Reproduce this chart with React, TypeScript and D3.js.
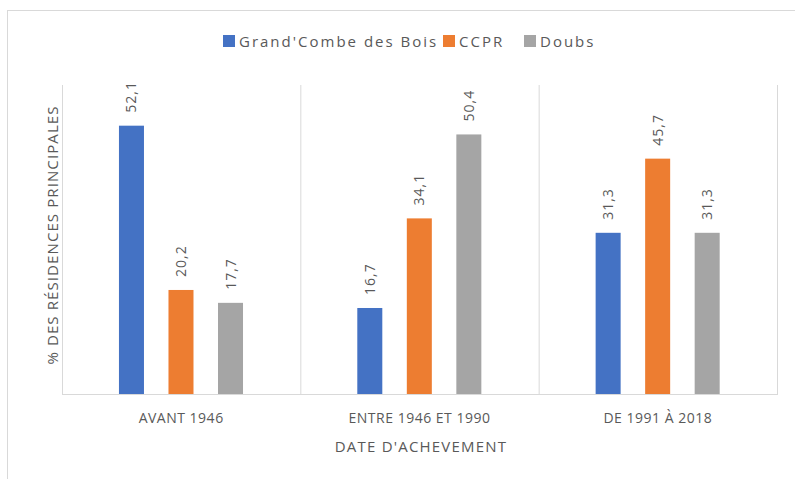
import React, { useRef, useEffect } from "react";
import * as d3 from "d3";

// chart data
const categories = ["AVANT 1946", "ENTRE 1946 ET 1990", "DE 1991 À 2018"];
const seriesNames = ["Grand'Combe des Bois", "CCPR", "Doubs"];
const grandCombe = [52.1, 16.7, 31.3];
const ccpr = [20.2, 34.1, 45.7];
const doubs = [17.7, 50.4, 31.3];
const colors = ["#4472C4", "#ED7D31", "#A5A5A5"];

const W = 795;
const H = 479;
const FONT = "'Open Sans', 'DejaVu Sans', sans-serif";
const TXT = "#595959";

const App = () => {
  const svgRef = useRef(null);

  useEffect(() => {
    const svg = d3.select(svgRef.current);
    svg.selectAll("*").remove();

    const series = [grandCombe, ccpr, doubs];
    const left = 62;
    const right = 777;
    const top = 85;
    const bottom = 394;

    // outer chart border
    svg
      .append("rect")
      .attr("x", 7.5)
      .attr("y", 10.5)
      .attr("width", 820)
      .attr("height", 520)
      .attr("fill", "#fff")
      .attr("stroke", "#d9d9d9");

    const x = d3.scaleBand().domain(categories).range([left, right]);
    const inner = d3
      .scaleBand()
      .domain(seriesNames)
      .range([0.239, 0.7595].map((f) => f * x.bandwidth()))
      .paddingInner(0.495)
      .paddingOuter(0);
    const y = d3.scaleLinear().domain([0, 60]).range([bottom, top]);

    // vertical separators
    const seps = [...categories.map((c) => x(c)), right];
    svg
      .selectAll("line.sep")
      .data(seps)
      .enter()
      .append("line")
      .attr("x1", (d) => d + 0.5)
      .attr("x2", (d) => d + 0.5)
      .attr("y1", top)
      .attr("y2", bottom)
      .attr("stroke", "#d9d9d9")
      .attr("stroke-width", 1);

    // bars
    seriesNames.forEach((name, si) => {
      const g = svg.append("g");
      const bw = inner.bandwidth();
      g.selectAll("rect")
        .data(series[si])
        .enter()
        .append("rect")
        .attr("x", (d, i) => x(categories[i]) + inner(name))
        .attr("y", (d) => y(d))
        .attr("width", bw)
        .attr("height", (d) => bottom - y(d))
        .attr("fill", colors[si]);

      g.selectAll("text")
        .data(series[si])
        .enter()
        .append("text")
        .attr("transform", (d, i) => {
          const cx = x(categories[i]) + inner(name) + bw / 2;
          return `translate(${cx + 5},${y(d) - 13}) rotate(-90)`;
        })
        .attr("font-family", FONT)
        .attr("font-size", 14)
        .attr("letter-spacing", 1)
        .attr("fill", TXT)
        .text((d) => d3.format(".1f")(d).replace(".", ","));
    });

    // baseline
    svg
      .append("line")
      .attr("x1", left)
      .attr("x2", right + 1)
      .attr("y1", bottom + 0.5)
      .attr("y2", bottom + 0.5)
      .attr("stroke", "#d9d9d9");

    // category labels
    svg
      .selectAll("text.cat")
      .data(categories)
      .enter()
      .append("text")
      .attr("x", (d) => x(d) + x.bandwidth() / 2)
      .attr("y", 423)
      .attr("text-anchor", "middle")
      .attr("font-family", FONT)
      .attr("font-size", 14)
      .attr("letter-spacing", 0.5)
      .attr("fill", TXT)
      .text((d) => d);

    // axis titles
    svg
      .append("text")
      .attr("x", 421)
      .attr("y", 452)
      .attr("text-anchor", "middle")
      .attr("font-family", FONT)
      .attr("font-size", 15)
      .attr("letter-spacing", 1.2)
      .attr("fill", TXT)
      .text("DATE D'ACHEVEMENT");

    svg
      .append("text")
      .attr("transform", "translate(58,235) rotate(-90)")
      .attr("text-anchor", "middle")
      .attr("font-family", FONT)
      .attr("font-size", 15)
      .attr("letter-spacing", 1.1)
      .attr("fill", TXT)
      .text("% DES RÉSIDENCES PRINCIPALES");

    // legend
    const legendX = [223, 443, 524];
    const lg = svg
      .selectAll("g.legend")
      .data(seriesNames)
      .enter()
      .append("g")
      .attr("transform", (d, i) => `translate(${legendX[i]},35)`);
    lg.append("rect")
      .attr("width", 12)
      .attr("height", 12)
      .attr("fill", (d, i) => colors[i]);
    lg.append("text")
      .attr("x", 16)
      .attr("y", 11.5)
      .attr("font-family", FONT)
      .attr("font-size", 15)
      .attr("letter-spacing", 2)
      .attr("fill", TXT)
      .text((d) => d);
  }, []);

  return (
    <svg
      ref={svgRef}
      width={W}
      height={H}
      style={{ position: "absolute", left: 0, top: 0, background: "#fff" }}
    ></svg>
  );
};

export default App;
